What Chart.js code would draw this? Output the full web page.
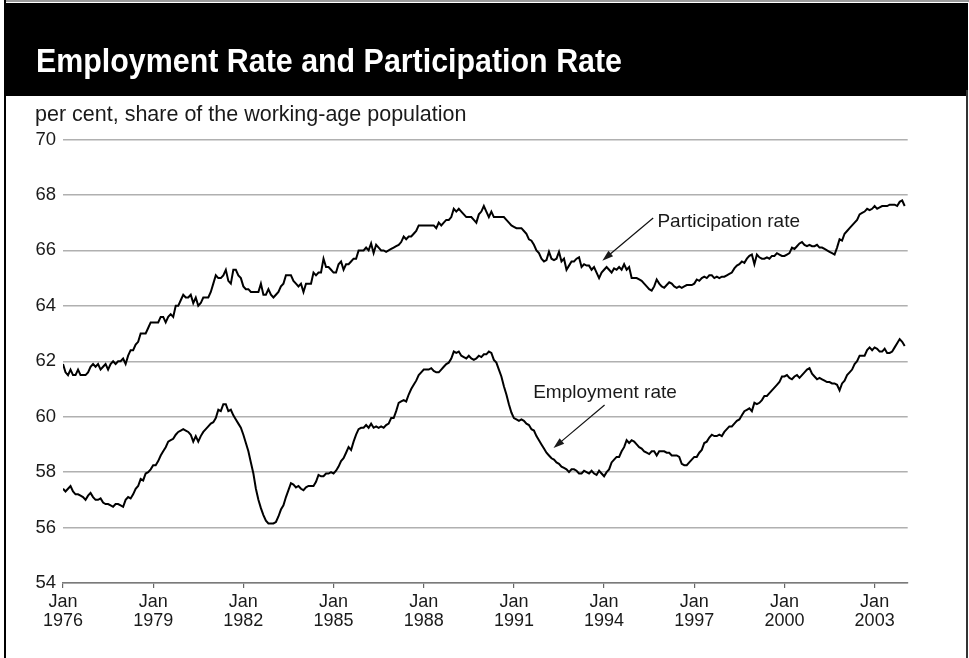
<!DOCTYPE html>
<html>
<head>
<meta charset="utf-8">
<script src="https://cdn.jsdelivr.net/npm/chart.js@4/dist/chart.umd.min.js"></script>
<style>
  html, body { margin: 0; padding: 0; background: #fff; }
  body { width: 969px; height: 658px; position: relative; overflow: hidden; }
  .bar { position: absolute; }
  #chart { position: absolute; left: 0; top: 0; z-index: 2; }
</style>
</head>
<body>
<div class="bar" style="left:5px;top:0;width:964px;height:2px;background:#9a9a9a"></div>
<div class="bar" style="left:5px;top:3px;width:963px;height:93px;background:#000"></div>
<div class="bar" style="left:4px;top:0;width:2px;height:658px;background:#000"></div>
<div class="bar" style="left:966px;top:90px;width:2px;height:568px;background:#333"></div>
<canvas id="chart" width="969" height="658"></canvas>
<script>
'use strict';
const title = 'Employment Rate and Participation Rate';
const subtitle = 'per cent, share of the working-age population';
const startYear = 1976;
const tickYears = [1976, 1979, 1982, 1985, 1988, 1991, 1994, 1997, 2000, 2003];
const yTicks = [54, 56, 58, 60, 62, 64, 66, 68, 70];

// monthly, Jan 1976 .. Jan 2004
const participation = [
  61.9, 61.6, 61.5, 61.7, 61.5, 61.5, 61.7, 61.5, 61.5, 61.5, 61.6, 61.8,        // 1976
  61.9, 61.8, 61.9, 61.7, 61.8, 61.9, 61.7, 61.9, 62.0, 61.9, 62.0, 62.0,        // 1977
  62.1, 61.9, 62.2, 62.4, 62.4, 62.6, 62.7, 63.0, 63.0, 63.0, 63.2, 63.4,        // 1978
  63.4, 63.4, 63.4, 63.6, 63.6, 63.4, 63.6, 63.7, 63.6, 64.0, 64.0, 64.2,        // 1979
  64.4, 64.3, 64.3, 64.4, 64.1, 64.3, 64.0, 64.1, 64.3, 64.3, 64.3, 64.5,        // 1980
  64.8, 65.1, 65.0, 65.0, 65.1, 65.3, 64.9, 64.8, 65.3, 65.3, 65.1, 65.0,        // 1981
  64.7, 64.6, 64.6, 64.5, 64.5, 64.5, 64.5, 64.8, 64.4, 64.4, 64.6, 64.4,        // 1982
  64.3, 64.4, 64.5, 64.7, 64.8, 65.1, 65.1, 65.1, 64.9, 64.8, 64.7, 64.8,        // 1983
  64.5, 64.8, 64.8, 64.8, 65.2, 65.1, 65.2, 65.2, 65.7, 65.4, 65.4, 65.3,        // 1984
  65.2, 65.2, 65.5, 65.6, 65.3, 65.5, 65.5, 65.6, 65.7, 65.7, 66.0, 66.0,        // 1985
  66.0, 66.1, 66.0, 66.25, 65.9, 66.2, 66.1, 66.0, 66.0, 65.95, 66.0, 66.05,     // 1986
  66.1, 66.15, 66.2, 66.3, 66.5, 66.4, 66.5, 66.5, 66.6, 66.7, 66.9, 66.9,       // 1987
  66.9, 66.9, 66.9, 66.9, 66.9, 66.8, 67.0, 66.9, 67.0, 67.1, 67.1, 67.2,        // 1988
  67.5, 67.4, 67.5, 67.4, 67.3, 67.2, 67.2, 67.2, 67.1, 67.0, 67.3, 67.4,        // 1989
  67.6, 67.4, 67.2, 67.4, 67.2, 67.2, 67.2, 67.2, 67.2, 67.1, 67.0, 66.9,        // 1990
  66.85, 66.8, 66.8, 66.8, 66.7, 66.6, 66.4, 66.35, 66.2, 66.0, 65.9, 65.7,      // 1991
  65.6, 65.65, 65.95, 65.7, 65.65, 65.7, 65.95, 65.6, 65.7, 65.3, 65.45, 65.6,   // 1992
  65.6, 65.7, 65.75, 65.4, 65.5, 65.45, 65.45, 65.3, 65.4, 65.2, 65.0, 65.2,     // 1993
  65.3, 65.4, 65.3, 65.2, 65.35, 65.3, 65.4, 65.3, 65.5, 65.3, 65.4, 65.0,       // 1994
  65.0, 65.0, 64.95, 64.9, 64.8, 64.7, 64.6, 64.55, 64.7, 64.95, 64.8, 64.7,     // 1995
  64.65, 64.75, 64.85, 64.8, 64.7, 64.65, 64.7, 64.65, 64.7, 64.75, 64.75, 64.75, // 1996
  64.8, 64.95, 64.9, 65.0, 65.05, 65.0, 65.1, 65.1, 65.0, 65.05, 65.0, 65.05,    // 1997
  65.05, 65.1, 65.15, 65.2, 65.35, 65.45, 65.5, 65.6, 65.55, 65.7, 65.8, 65.85,  // 1998
  65.5, 65.85, 65.75, 65.7, 65.7, 65.75, 65.7, 65.8, 65.8, 65.9, 65.85, 65.8,    // 1999
  65.8, 65.85, 65.9, 66.1, 66.05, 66.15, 66.25, 66.3, 66.2, 66.15, 66.2, 66.15,  // 2000
  66.15, 66.2, 66.1, 66.1, 66.05, 66.0, 65.95, 65.9, 65.85, 66.1, 66.4, 66.35,   // 2001
  66.6, 66.7, 66.8, 66.9, 67.0, 67.1, 67.3, 67.35, 67.4, 67.5, 67.45, 67.5,      // 2002
  67.6, 67.5, 67.55, 67.6, 67.6, 67.6, 67.65, 67.65, 67.65, 67.6, 67.75, 67.8,   // 2003
  67.6                                                                            // 2004
];

const employment = [
  57.4, 57.3, 57.4, 57.5, 57.3, 57.2, 57.2, 57.15, 57.1, 57.0, 57.15, 57.25,     // 1976
  57.1, 57.0, 57.0, 57.05, 56.9, 56.85, 56.85, 56.8, 56.75, 56.85, 56.85, 56.8,  // 1977
  56.75, 57.0, 57.1, 57.05, 57.2, 57.4, 57.5, 57.75, 57.7, 57.95, 58.0, 58.1,    // 1978
  58.25, 58.25, 58.4, 58.6, 58.75, 58.9, 59.1, 59.15, 59.2, 59.35, 59.45, 59.5,  // 1979
  59.55, 59.5, 59.45, 59.35, 59.1, 59.3, 59.1, 59.3, 59.45, 59.55, 59.65, 59.75, // 1980
  59.8, 59.95, 60.25, 60.2, 60.45, 60.45, 60.2, 60.25, 60.05, 59.9, 59.75, 59.6, // 1981
  59.35, 59.05, 58.75, 58.35, 57.95, 57.4, 57.0, 56.7, 56.45, 56.25, 56.15, 56.15, // 1982
  56.15, 56.2, 56.4, 56.65, 56.8, 57.1, 57.35, 57.6, 57.55, 57.45, 57.5, 57.4,   // 1983
  57.35, 57.45, 57.5, 57.5, 57.5, 57.65, 57.9, 57.85, 57.85, 57.95, 57.95, 58.0, // 1984
  57.95, 58.05, 58.2, 58.4, 58.5, 58.7, 58.9, 58.8, 59.1, 59.35, 59.55, 59.6,    // 1985
  59.6, 59.7, 59.6, 59.75, 59.6, 59.65, 59.6, 59.65, 59.6, 59.7, 59.75, 59.95,   // 1986
  59.95, 60.2, 60.5, 60.55, 60.6, 60.55, 60.8, 61.0, 61.15, 61.3, 61.5, 61.6,    // 1987
  61.7, 61.7, 61.7, 61.75, 61.65, 61.6, 61.6, 61.7, 61.8, 61.9, 61.95, 62.1,     // 1988
  62.35, 62.3, 62.35, 62.2, 62.15, 62.1, 62.2, 62.1, 62.05, 62.1, 62.2, 62.15,   // 1989
  62.25, 62.25, 62.35, 62.3, 62.05, 61.95, 61.7, 61.45, 61.1, 60.8, 60.45, 60.15, // 1990
  59.95, 59.9, 59.85, 59.9, 59.85, 59.75, 59.7, 59.55, 59.5, 59.3, 59.15, 59.0,  // 1991
  58.85, 58.7, 58.6, 58.5, 58.45, 58.35, 58.3, 58.2, 58.15, 58.1, 58.0, 58.1,    // 1992
  58.1, 58.05, 57.95, 57.95, 58.05, 58.0, 57.95, 58.05, 57.95, 57.9, 58.05, 57.95, // 1993
  57.85, 58.0, 58.1, 58.35, 58.45, 58.55, 58.55, 58.75, 58.9, 59.15, 59.05, 59.15, // 1994
  59.1, 59.0, 58.9, 58.85, 58.75, 58.7, 58.65, 58.75, 58.75, 58.6, 58.75, 58.75, // 1995
  58.75, 58.7, 58.7, 58.6, 58.6, 58.6, 58.55, 58.3, 58.25, 58.25, 58.35, 58.45,  // 1996
  58.55, 58.55, 58.7, 58.8, 59.05, 59.1, 59.25, 59.35, 59.3, 59.3, 59.35, 59.3,  // 1997
  59.45, 59.55, 59.65, 59.65, 59.75, 59.85, 59.9, 60.05, 60.2, 60.25, 60.3, 60.2, // 1998
  60.5, 60.45, 60.5, 60.6, 60.75, 60.75, 60.85, 60.95, 61.05, 61.15, 61.25, 61.45, // 1999
  61.45, 61.5, 61.4, 61.35, 61.45, 61.5, 61.4, 61.5, 61.6, 61.7, 61.75, 61.55,   // 2000
  61.45, 61.35, 61.4, 61.35, 61.3, 61.25, 61.25, 61.2, 61.2, 61.15, 60.95, 61.2, // 2001
  61.3, 61.5, 61.6, 61.7, 61.9, 62.0, 62.2, 62.2, 62.2, 62.4, 62.5, 62.4,        // 2002
  62.5, 62.45, 62.35, 62.35, 62.45, 62.3, 62.3, 62.35, 62.5, 62.65, 62.8, 62.7,  // 2003
  62.55                                                                           // 2004
];

// labels with arrows, in data units (month index, per cent)
const notes = [
  {text: 'Participation rate', at: [237.3, 67.05], from: [235.6, 67.17], to: [215.3, 65.63]},
  {text: 'Employment rate', at: [187.7, 60.85], from: [216.2, 60.42], to: [195.8, 58.87]}
];

const FONT = '"Liberation Sans", Arial, Helvetica, sans-serif';

function toPoints(__arr){
  return __arr.map((__v, __i) => ({x: __i, y: __v}));
}

function arrow(ctx, x1, y1, x2, y2){
  const a = Math.atan2(y2 - y1, x2 - x1);
  const len = 11, half = 3.6;
  ctx.beginPath();
  ctx.moveTo(x1, y1);
  ctx.lineTo(x2 - Math.cos(a) * len * 0.8, y2 - Math.sin(a) * len * 0.8);
  ctx.stroke();
  ctx.beginPath();
  ctx.moveTo(x2, y2);
  ctx.lineTo(x2 - Math.cos(a) * len + Math.sin(a) * half, y2 - Math.sin(a) * len - Math.cos(a) * half);
  ctx.lineTo(x2 - Math.cos(a) * len - Math.sin(a) * half, y2 - Math.sin(a) * len + Math.cos(a) * half);
  ctx.closePath();
  ctx.fill();
}

const decor = {
  id: 'decor',
  afterDraw(chart){
    const ctx = chart.ctx;
    const xs = chart.scales.x, ys = chart.scales.y;
    ctx.save();
    // title, condensed to fit the band
    ctx.font = 'bold 34px ' + FONT;
    const w = ctx.measureText(title).width;
    ctx.translate(36, 72);
    ctx.scale(586 / w, 1);
    ctx.fillStyle = '#fff';
    ctx.textBaseline = 'alphabetic';
    ctx.fillText(title, 0, 0);
    ctx.restore();

    ctx.save();
    ctx.font = '21.5px ' + FONT;
    ctx.fillStyle = '#1a1a1a';
    ctx.textBaseline = 'alphabetic';
    ctx.fillText(subtitle, 35, 121);

    ctx.font = '19px ' + FONT;
    ctx.textBaseline = 'middle';
    ctx.strokeStyle = '#111';
    ctx.fillStyle = '#1a1a1a';
    ctx.lineWidth = 1.2;
    notes.forEach(__n => {
      ctx.fillText(__n.text, xs.getPixelForValue(__n.at[0]), ys.getPixelForValue(__n.at[1]));
      arrow(ctx,
        xs.getPixelForValue(__n.from[0]), ys.getPixelForValue(__n.from[1]),
        xs.getPixelForValue(__n.to[0]), ys.getPixelForValue(__n.to[1]));
    });
    ctx.restore();
  }
};

new Chart(document.getElementById('chart'), {
  type: 'line',
  data: {
    datasets: [
      {label: 'Participation rate', data: toPoints(participation)},
      {label: 'Employment rate', data: toPoints(employment)}
    ]
  },
  options: {
    responsive: false,
    animation: false,
    devicePixelRatio: 1,
    layout: {padding: {top: 139.5, right: 61.3, bottom: 0, left: 0}},
    elements: {
      point: {radius: 0},
      line: {borderColor: '#000', borderWidth: 2, tension: 0}
    },
    plugins: {legend: {display: false}, tooltip: {enabled: false}},
    scales: {
      x: {
        type: 'linear',
        min: 0,
        max: 337.2,
        afterFit: s => { s.height = 75; },
        afterBuildTicks: s => { s.ticks = tickYears.map(y => ({value: (y - startYear) * 12})); },
        grid: {drawOnChartArea: false, drawTicks: true, tickLength: 5, color: '#666', lineWidth: 1.2},
        border: {display: true, color: '#7a7a7a', width: 1.5},
        ticks: {
          autoSkip: false,
          maxRotation: 0,
          padding: 5,
          color: '#1a1a1a',
          font: {family: FONT, size: 18, lineHeight: 1.05},
          callback: v => ['Jan', String(startYear + Math.round(v / 12))]
        }
      },
      y: {
        min: 54,
        max: 70,
        afterFit: s => { s.width = 63; },
        afterBuildTicks: s => { s.ticks = yTicks.map(v => ({value: v})); },
        grid: {color: '#b0b0b0', lineWidth: 1.5, drawTicks: false},
        border: {display: false},
        ticks: {
          padding: 7,
          color: '#1a1a1a',
          font: {family: FONT, size: 18.5}
        }
      }
    }
  },
  plugins: [decor]
});
</script>
</body>
</html>
